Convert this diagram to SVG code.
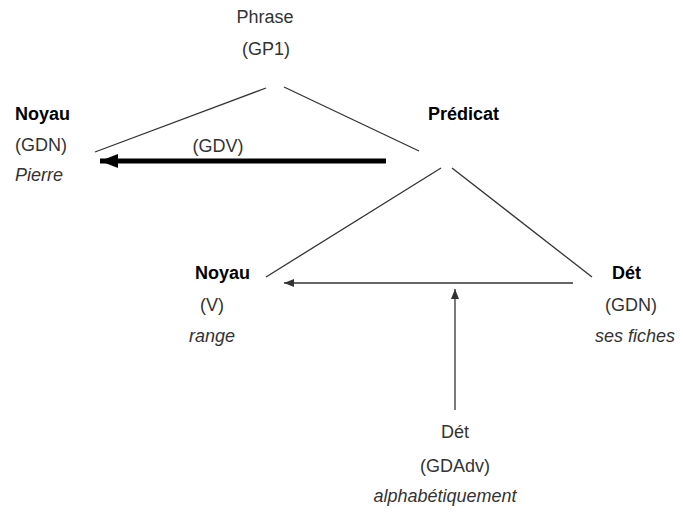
<svg xmlns="http://www.w3.org/2000/svg" width="683" height="517" viewBox="0 0 683 517">
<defs>
<style>
text{font-family:"Liberation Sans",Arial,sans-serif;font-size:18px;fill:#333}
.b{font-weight:bold;fill:#000}
.i{font-style:italic}
.m{text-anchor:middle}
.ln{stroke:#333;stroke-width:1.3;fill:none}
</style>
<marker id="hd" viewBox="0 0 10 10" refX="10" refY="5" markerWidth="10" markerHeight="10" markerUnits="userSpaceOnUse" orient="auto"><path d="M0,1 L10,5 L0,9 z" fill="#333"/></marker>
<marker id="hdb" viewBox="0 0 10 10" refX="10" refY="5" markerWidth="18" markerHeight="14" markerUnits="userSpaceOnUse" orient="auto" preserveAspectRatio="none"><path d="M0,0 L10,5 L0,10 z" fill="#000"/></marker>
</defs>
<g id="connectors">
<line class="ln" x1="266" y1="88" x2="95" y2="152"/>
<line class="ln" x1="284" y1="87" x2="419" y2="151"/>
<line x1="386" y1="161" x2="100" y2="161" stroke="#000" stroke-width="5" marker-end="url(#hdb)"/>
<line class="ln" x1="441" y1="168" x2="266" y2="277"/>
<line class="ln" x1="452" y1="168" x2="592" y2="277"/>
<line class="ln" x1="573" y1="283" x2="284" y2="283" marker-end="url(#hd)"/>
<line class="ln" x1="455" y1="410" x2="455" y2="289" marker-end="url(#hd)"/>
<text x="218" y="152" class="m">(GDV)</text>
</g>
<g id="phrase">
<text x="265" y="23" class="m">Phrase</text>
<text x="266" y="55" class="m">(GP1)</text>
</g>
<g id="noyau1">
<text x="15" y="120" class="b">Noyau</text>
<text x="15" y="151">(GDN)</text>
<text x="15" y="181" class="i">Pierre</text>
</g>
<g id="predicat">
<text x="428" y="120" class="b">Prédicat</text>
</g>
<g id="noyau2">
<text x="195" y="279" class="b">Noyau</text>
<text x="200" y="311">(V)</text>
<text x="189" y="342" class="i">range</text>
</g>
<g id="det1">
<text x="612" y="279" class="b">Dét</text>
<text x="605" y="311">(GDN)</text>
<text x="595" y="342" class="i">ses fiches</text>
</g>
<g id="det2">
<text x="455" y="438" class="m">Dét</text>
<text x="455" y="472" class="m">(GDAdv)</text>
<text x="445" y="502" class="m i">alphabétiquement</text>
</g>
</svg>
